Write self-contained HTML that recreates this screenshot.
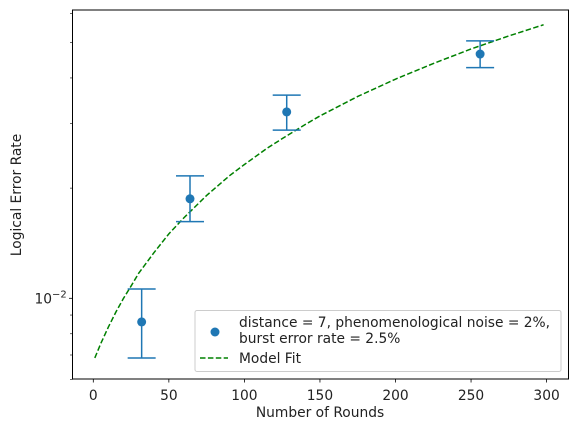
<!DOCTYPE html>
<html><head><meta charset="utf-8"><style>
html,body{margin:0;padding:0;background:#fff;}
svg{display:block;font-family:"DejaVu Sans","Liberation Sans",sans-serif;}
</style></head><body>
<svg id="chart" width="578" height="432" viewBox="0 0 578 432" xmlns="http://www.w3.org/2000/svg">
<rect x="0" y="0" width="578" height="432" fill="#fff"/>
<g id="plot"></g>
<rect x="72.5" y="10" width="496" height="369" fill="none" stroke="#000" stroke-width="1"/>
<g id="xticks"></g>
<g id="yticks"></g>
<text x="320" y="417" font-size="13.8" text-anchor="middle" fill="#222">Number of Rounds</text>
<text transform="translate(21,195) rotate(-90)" font-size="13.8" text-anchor="middle" fill="#222">Logical Error Rate</text>
<g>
<rect x="195" y="310.5" width="366" height="61" rx="2" fill="#fff" fill-opacity="0.8" stroke="#ccc" stroke-width="1"/>
<circle cx="215" cy="332" r="4.5" fill="#1f77b4"/>
<text x="239" y="327" font-size="13.8" fill="#222">distance = 7, phenomenological noise = 2%,</text>
<text x="239" y="343" font-size="13.8" fill="#222">burst error rate = 2.5%</text>
<line x1="200" y1="358" x2="228" y2="358" stroke="#008000" stroke-width="1.5" stroke-dasharray="5.5,2.4"/>
<text x="239" y="363" font-size="13.8" fill="#222">Model Fit</text>
</g>
</svg>
<script>
const rounds = [32, 64, 128, 256];
const errRate = [0.00862, 0.0187, 0.0323, 0.0465];
const errLow = [0.00687, 0.0162, 0.0288, 0.0427];
const errHigh = [0.0106, 0.0216, 0.0359, 0.0505];
const fitRounds = [1, 5, 10, 15, 20, 25, 30, 40, 50, 60, 75, 90, 100, 115, 125, 140, 150, 175, 200, 225, 250, 275, 298];
const fitValues = [0.00687, 0.00753, 0.00835, 0.00918, 0.0100, 0.0108, 0.0117, 0.0133, 0.0150, 0.0166, 0.0191, 0.0216, 0.0232, 0.0257, 0.0273, 0.0298, 0.0315, 0.0356, 0.0397, 0.0438, 0.0480, 0.0521, 0.0559];
const xTicks = [0, 50, 100, 150, 200, 250, 300];
const yMinorTicks = [0.006, 0.007, 0.008, 0.009, 0.02, 0.03, 0.04, 0.05, 0.06];

const NS = "http://www.w3.org/2000/svg";
const X = n => 93.3 + n * 1.511;
const Y = v => 298.3 - 366 * Math.log10(v / 0.01);
function mk(tag, attrs, parent) {
  const e = document.createElementNS(NS, tag);
  for (const k in attrs) e.setAttribute(k, attrs[k]);
  parent.appendChild(e);
  return e;
}
const plot = document.getElementById('plot');
const xg = document.getElementById('xticks');
const yg = document.getElementById('yticks');

xTicks.forEach(t => {
  const l = mk('line', {x1: X(t), x2: X(t), y1: 379, y2: 382.5, stroke: '#000', 'stroke-width': 0.8}, xg);
  
  
  const tx = mk('text', {x: X(t), y: 400, 'font-size': 13.8, 'text-anchor': 'middle', fill: '#222'}, xg);
  tx.textContent = t;
  
  
});
yMinorTicks.forEach(v => {
  const l = mk('line', {x1: 70, x2: 72.5, y1: Y(v), y2: Y(v), stroke: '#000', 'stroke-width': 0.6}, yg);
  
  
});
const mj = mk('line', {x1: 69, x2: 72.5, y1: Y(0.01), y2: Y(0.01), stroke: '#000', 'stroke-width': 0.8}, yg);


const yl = mk('text', {x: 52, y: Y(0.01) + 5, 'font-size': 13.8, 'text-anchor': 'end', fill: '#222'}, yg);


yl.textContent = '10';
const sup = mk('text', {x: 52, y: Y(0.01) - 1, 'font-size': 10, 'text-anchor': 'start', fill: '#222'}, yg);


sup.textContent = '\u22122';

const pts = fitRounds.map((n, i) => X(n).toFixed(2) + ',' + Y(fitValues[i]).toFixed(2)).join(' ');
const fit = mk('polyline', {points: pts, fill: 'none', stroke: '#008000', 'stroke-width': 1.5, 'stroke-dasharray': '5.5,2.4'}, plot);



rounds.forEach((n, i) => {
  const x = X(n);
  const g = mk('g', {}, plot);
  
  
  mk('line', {x1: x, x2: x, y1: Y(errLow[i]), y2: Y(errHigh[i]), stroke: '#1f77b4', 'stroke-width': 1.5}, g);
  mk('line', {x1: x - 14, x2: x + 14, y1: Y(errLow[i]), y2: Y(errLow[i]), stroke: '#1f77b4', 'stroke-width': 1.5}, g);
  mk('line', {x1: x - 14, x2: x + 14, y1: Y(errHigh[i]), y2: Y(errHigh[i]), stroke: '#1f77b4', 'stroke-width': 1.5}, g);
  mk('circle', {cx: x, cy: Y(errRate[i]), r: 4.5, fill: '#1f77b4'}, g);
});
</script>
</body></html>
